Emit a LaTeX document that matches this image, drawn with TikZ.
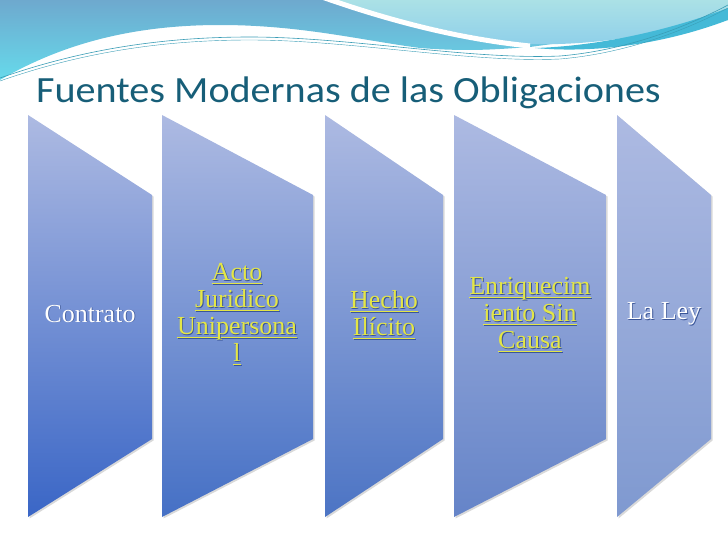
\documentclass[tikz,border=0pt]{standalone}
\usepackage{fontspec}
\setmainfont{Liberation Serif}
\newfontfamily\titlefont{Carlito}
\usetikzlibrary{shadows}

\definecolor{titleblue}{HTML}{175E78}
\definecolor{linkyellow}{HTML}{E4E646}
\definecolor{textshade}{HTML}{3A5598}
\definecolor{chevtop}{HTML}{ADBAE2}
\definecolor{chevbotA}{HTML}{3A66C6}
\definecolor{chevbotB}{HTML}{4570C5}
\definecolor{chevbotC}{HTML}{4C74C4}
\definecolor{chevbotD}{HTML}{6584C8}
\definecolor{chevbotE}{HTML}{7F99D0}
\definecolor{bandtop}{HTML}{6EA9CE}
\definecolor{bandbot}{HTML}{66DAEB}
\definecolor{lighttop}{HTML}{ABE1E6}
\definecolor{lightbot}{HTML}{8ECFEA}
\definecolor{stripecyan}{HTML}{44B9D7}
\definecolor{thinteal}{HTML}{3A9DB6}

% text with a soft drop shadow, and the same with a fixed-depth underline
\newcommand{\shtext}[1]{\rlap{\kern0.9pt\raisebox{-0.9pt}{\color{textshade}#1}}#1}
\newcommand{\ulin}[1]{\setbox0=\hbox{#1}%
    \rlap{\kern0.9pt\color{textshade}\rule[-4.4pt]{\wd0}{1.1pt}}%
    \rlap{\rule[-3.5pt]{\wd0}{1.1pt}}\shtext{#1}}

\tikzset{
    chev/.style={drop shadow={shadow xshift=1.5pt, shadow yshift=-1.5pt, opacity=.3}},
    srctext/.style={font=\fontsize{26}{27}\selectfont, align=center, inner sep=0pt},
    plaintext/.style={srctext, text=white},
    linktext/.style={srctext, text=linkyellow},
}

\begin{document}
\begin{tikzpicture}[x=1pt, y=-1pt]
        \useasboundingbox (0,0) rectangle (728,546);
        % header waves
        \path[top color=bandtop, bottom color=bandbot]
            (0,0) -- (728,0) -- (728,20) -- (530,47)
            .. controls (500,49) and (470,52) .. (420,48)
            .. controls (360,40) and (300,25) .. (220,25)
            .. controls (130,25) and (60,45) .. (0,80) -- cycle;
        \path[top color=lighttop, bottom color=lightbot]
            (332,0) -- (728,0) -- (728,10)
            .. controls (670,33) and (600,46) .. (530,44)
            .. controls (460,36) and (390,18) .. (332,0) -- cycle;
        \draw[white, line width=5pt] (322,-3) .. controls (390,21) and (460,39) .. (530,46);
        \fill[stripecyan] (535,48) .. controls (600,46) and (670,30) .. (728,8)
            -- (728,20) .. controls (670,42) and (600,54) .. (535,48) -- cycle;
        \draw[thinteal, line width=0.6pt] (0,78) .. controls (80,50) and (160,37) .. (250,37)
            .. controls (350,37) and (470,60) .. (560,56) .. controls (630,50) and (690,25) .. (728,5);
        \draw[thinteal, line width=0.4pt] (0,81) .. controls (80,53) and (160,40) .. (250,40)
            .. controls (350,40) and (470,63) .. (560,59) .. controls (630,53) and (690,28) .. (728,8);

        % title
        \node[font=\titlefont\fontsize{37}{40}\selectfont, text=titleblue, anchor=base west, inner sep=0pt]
            (title) at (36,102) {\scalebox{1.085}[1]{Fuentes Modernas de las Obligaciones}};

        % chevrons
        \path[chev, top color=chevtop, bottom color=chevbotA]
            (28,115) -- (152,195) -- (152,439) -- (28,517) -- cycle;
        \path[chev, top color=chevtop, bottom color=chevbotB]
            (162,115) -- (313,195) -- (313,439) -- (162,517) -- cycle;
        \path[chev, top color=chevtop, bottom color=chevbotC]
            (325,115) -- (443,195) -- (443,439) -- (325,517) -- cycle;
        \path[chev, top color=chevtop, bottom color=chevbotD]
            (454,115) -- (606,195) -- (606,439) -- (454,517) -- cycle;
        \path[chev, top color=chevtop, bottom color=chevbotE]
            (617,115) -- (711,195) -- (711,439) -- (617,517) -- cycle;

        \node[plaintext] (contrato) at (90,314)  {\shtext{Contrato}};
        \node[linktext]  (acto)     at (237,315) {\ulin{Acto}\\ \ulin{Juridico}\\ \ulin{Unipersona}\\ \ulin{l}};
        \node[linktext]  (hecho)    at (384,315) {\ulin{Hecho}\\ \ulin{Ilícito}};
        \node[linktext]  (enriq)    at (530,315) {\ulin{Enriquecim}\\ \ulin{iento Sin}\\ \ulin{Causa}};
        \node[plaintext] (ley)      at (664,314) {\shtext{La Ley}};
    \end{tikzpicture}
\end{document}
